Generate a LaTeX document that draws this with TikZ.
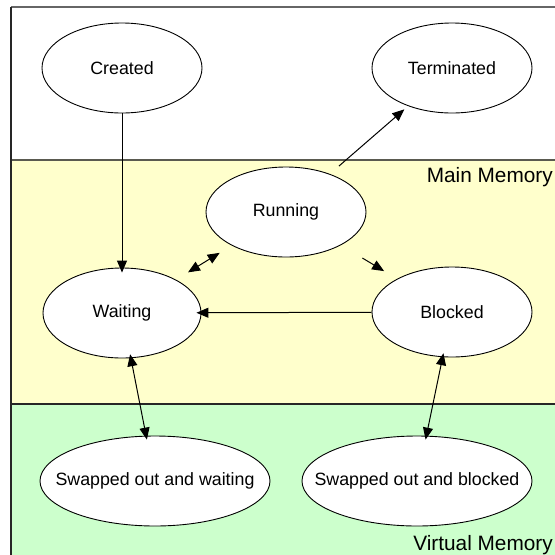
\documentclass[tikz,border=0pt]{standalone}
\usepackage{fontspec}
\setmainfont{Liberation Sans}
\usetikzlibrary{shapes.geometric,arrows.meta}
\definecolor{mainmem}{RGB}{255,255,204}
\definecolor{virtmem}{RGB}{204,255,204}
\definecolor{bandline}{RGB}{90,90,80}
\newcommand{\lbl}[1]{\makebox[0pt]{#1}}
\tikzset{
  state/.style={ellipse, draw=black, fill=white, line width=0.9pt, inner sep=0pt,
    minimum width=160pt, minimum height=90pt, font=\fontsize{17.8}{20}\selectfont},
  widestate/.style={state, minimum width=230pt},
  conn/.style={draw=black, line width=1pt},
  bandlabel/.style={anchor=base east, inner sep=0pt, font=\fontsize{20.8}{24}\selectfont},
  >={Triangle[length=12pt,width=10pt]}
}
\begin{document}
\begin{tikzpicture}[x=1pt,y=-1pt]
\useasboundingbox (0,0) rectangle (555,555);
\clip (0,0) rectangle (555,555);
% regions
\fill[white] (11,7) rectangle (570,160);
\fill[mainmem] (11,160) rectangle (570,404);
\fill[virtmem] (11,404) rectangle (570,570);
\draw[gray!80!black, line width=1.5pt] (11,7) -- (570,7);
\draw[bandline, line width=2pt] (11,160) -- (570,160);
\draw[black!85, line width=1.5pt] (11,404) -- (570,404);
\draw[black!85, line width=2pt] (11,570) -- (11,7);
\node[bandlabel] (mmlabel) at (553,182) {Main Memory};
\node[bandlabel] (vmlabel) at (553,550) {Virtual Memory};
% states
\node[state] (cre) at (122,68) {\lbl{Created}};
\node[state] (ter) at (452,68) {\lbl{Terminated}};
\node[state] (run) at (286,212) {\lbl{Running}};
\node[state, minimum width=158pt] (wai) at (122,313) {\lbl{Waiting}};
\node[state] (blk) at (452,312) {\lbl{Blocked}};
\node[widestate] (sow) at (155,481) {\lbl{Swapped out and waiting}};
\node[widestate] (sob) at (417,481) {\lbl{Swapped out and blocked}};
% connectors
\draw[conn,->, shorten >=-5pt] (cre) -- (wai);
\draw[conn,->, shorten <=12pt, shorten >=5pt] (run) -- (ter);
\draw[conn,<->, shorten <=14pt, shorten >=14pt] (wai) -- (run);
\draw[conn,->, shorten <=25pt, shorten >=15pt] (run) -- (blk);
\draw[conn,->, shorten >=-5pt] (blk) -- (wai);
\draw[conn,<->, shorten <=-4pt, shorten >=-4pt] (wai) -- (sow);
\draw[conn,<->, shorten <=-4pt, shorten >=-4pt] (blk) -- (sob);
\end{tikzpicture}
\end{document}
